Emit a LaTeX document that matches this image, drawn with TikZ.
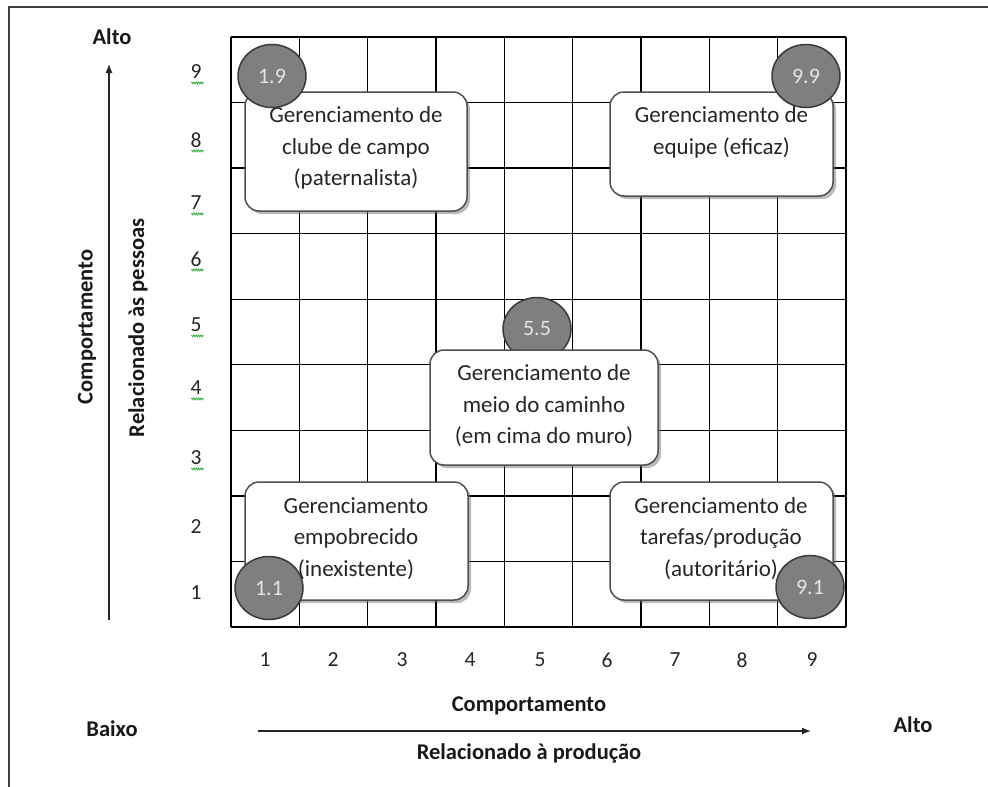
\documentclass[tikz,border=0pt]{standalone}
\usepackage{fontspec}
\setmainfont{Carlito}
\usetikzlibrary{shapes.geometric,shadows,arrows.meta}
\definecolor{circfill}{HTML}{7F7F7F}
\definecolor{circline}{HTML}{3A3A3A}
\definecolor{boxline}{HTML}{505050}
\definecolor{squig}{HTML}{3CB043}
\tikzset{
  gridline/.style={line width=1.25pt, black},
  framebox/.style={line width=1.6pt, black!75},
  mbox/.style={draw=boxline, line width=1.5pt, fill=white, rounded corners=14pt,
    drop shadow={shadow xshift=3pt, shadow yshift=-3pt, opacity=0.45, fill=black!60}},
  btxt/.style={align=center, font=\fontsize{23}{31.5}\selectfont, text=black!85},
  score/.style={ellipse, draw=circline, line width=1.5pt, fill=circfill,
    minimum width=68pt, minimum height=63pt, inner sep=0pt,
    text=white!90!black, font=\fontsize{22}{24}\selectfont},
  axnum/.style={font=\fontsize{21.5}{24}\selectfont, text=black!85},
  blbl/.style={font=\bfseries\fontsize{22.5}{24}\selectfont, text=black!90},
  axarrow/.style={line width=1.2pt, black!85, -{Latex[length=9pt,width=7pt]}},
}
\begin{document}
\begin{tikzpicture}[x=1pt,y=-1pt]
\useasboundingbox (0,0) rectangle (988,787);
% outer frame (top and left)
\draw[framebox] (988,7) -- (9,7) -- (9,787);
% grid
\foreach \i in {0,...,9} {
  \draw[gridline] ({231+\i*68.333},37) -- ({231+\i*68.333},627);
  \draw[gridline] (231,{37+\i*65.556}) -- (846,{37+\i*65.556});
}
% middle circle (under box)
\node[score] (c55) at (537,329) {5.5};
% boxes
\node[mbox, minimum width=222pt, minimum height=119pt] (b19) at (356,151.5) {};
\node[btxt] (t19) at (356,148) {Gerenciamento de\\clube de campo\\(paternalista)};
\node[mbox, minimum width=223pt, minimum height=104pt] (b99) at (721.5,144) {};
\node[btxt] (t99) at (721.5,132.5) {Gerenciamento de\\equipe (eficaz)};
\node[mbox, minimum width=228pt, minimum height=115pt] (b55) at (544,407.5) {};
\node[btxt] (t55) at (544,406) {Gerenciamento de\\meio do caminho\\(em cima do muro)};
\node[mbox, minimum width=223pt, minimum height=118pt] (b11) at (356.5,541) {};
\node[btxt] (t11) at (356,538.5) {Gerenciamento\\empobrecido\\(inexistente)};
\node[mbox, minimum width=223pt, minimum height=118pt] (b91) at (721.5,541) {};
\node[btxt] (t91) at (721,538.5) {Gerenciamento de\\tarefas/produção\\(autoritário)};
% score circles on top
\node[score] (c19) at (272,76) {1.9};
\node[score] (c99) at (806,76) {9.9};
\node[score] (c11) at (269,588) {1.1};
\node[score] (c91) at (810,587) {9.1};
% y-axis numbers
\foreach \n/\yy in {9/72,8/140,7/203,6/259,5/325,4/388,3/458,2/527,1/593} {
  \node[axnum] (y\n) at (196,\yy) {\n};
}
% green squiggles under 3..9
\foreach \yy in {72,140,203,259,325,388,458} {
  \draw[squig, line width=0.9pt] (191.5,\yy+10) \foreach \k in {0,...,4} { -- ++(1.2,1.8) -- ++(1.2,-1.8) };
}
% x-axis numbers
\foreach \n/\xx in {1/265,2/333,3/402,4/470,5/540,6/607,7/675,8/742,9/812} {
  \node[axnum] (x\n) at (\xx,660) {\n};
}
% axis labels
\node[blbl] (altoY) at (112,37) {Alto};
\node[blbl, rotate=90] (compY) at (87,327) {Comportamento};
\node[blbl, rotate=90] (relY) at (138,328) {Relacionado às pessoas};
\node[blbl] (baixo) at (112,729) {Baixo};
\node[blbl] (altoX) at (913,725) {Alto};
\node[blbl] (compX) at (529,706) {Comportamento};
\node[blbl] (relX) at (529,753) {Relacionado à produção};
% arrows
\coordinate (ya0) at (109,620);
\coordinate (ya1) at (109,64);
\draw[axarrow] (ya0) -- (ya1);
\coordinate (xa0) at (258,731);
\coordinate (xa1) at (811,731);
\draw[axarrow] (xa0) -- (xa1);
\end{tikzpicture}
\end{document}
